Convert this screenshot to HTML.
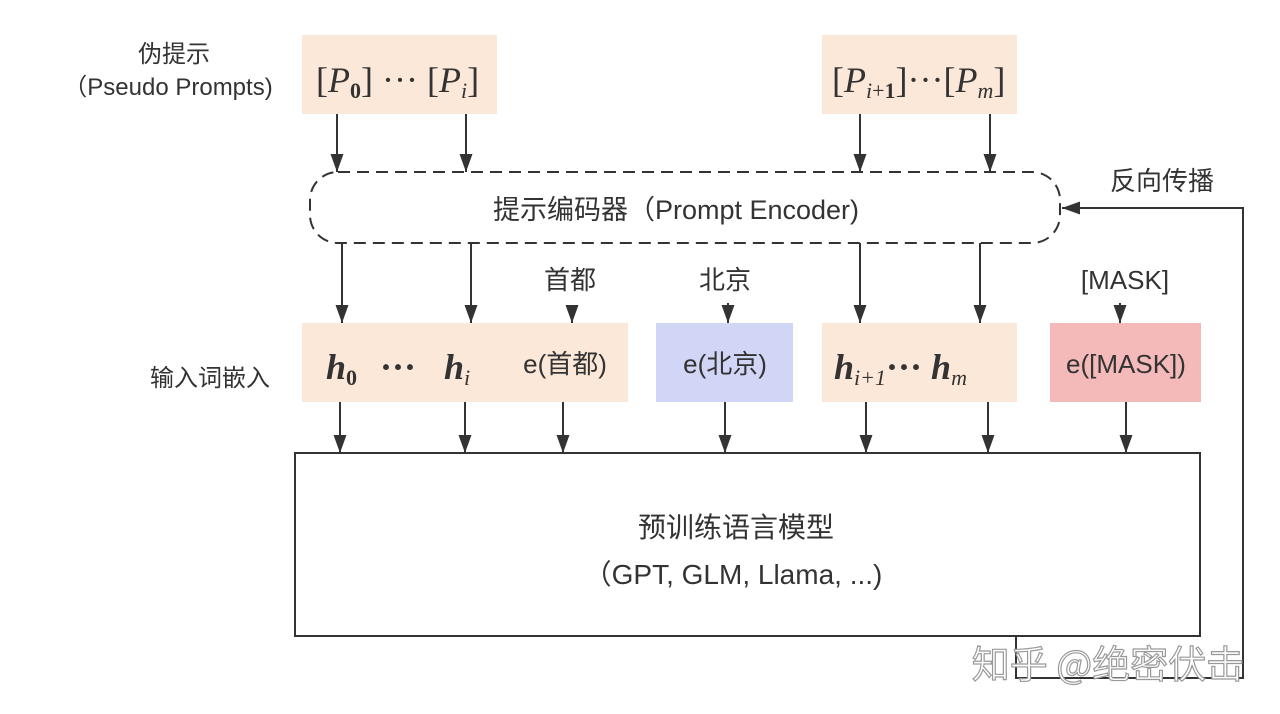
<!DOCTYPE html>
<html><head><meta charset="utf-8"><style>
html,body{margin:0;padding:0;background:#fff;}
svg{display:block;}
.s{font-family:"Liberation Sans","Noto Sans CJK SC",sans-serif;fill:#333;}
.m{font-family:"Liberation Serif","DejaVu Serif",serif;fill:#333;}
</style></head><body>
<svg width="1280" height="714" viewBox="0 0 1280 714" xmlns="http://www.w3.org/2000/svg">
<defs>
<marker id="a" markerWidth="18" markerHeight="13" refX="18" refY="6.5" orient="auto" markerUnits="userSpaceOnUse" viewBox="0 0 18 13">
<path d="M0,0 L18,6.5 L0,13 Z" fill="#333"/>
</marker>
</defs>
<text class="s" x="174" y="62" font-size="24" text-anchor="middle">伪提示</text>
<text class="s" x="168" y="95" font-size="24" text-anchor="middle">（Pseudo Prompts)</text>
<text class="s" x="210" y="386" font-size="24" text-anchor="middle">输入词嵌入</text>
<rect x="302" y="35" width="195" height="79" fill="#fce8d8"/>
<rect x="822" y="35" width="195" height="79" fill="#fce8d8"/>
<text class="m" x="316" y="92" font-size="36">[<tspan font-style="italic">P</tspan><tspan font-size="22" font-weight="bold" dy="6">0</tspan><tspan dy="-6">] ··· [</tspan><tspan font-style="italic">P</tspan><tspan font-size="22" font-style="italic" dy="6">i</tspan><tspan dy="-6">]</tspan></text>
<text class="m" x="832" y="92" font-size="36">[<tspan font-style="italic">P</tspan><tspan font-size="22" dy="6"><tspan font-style="italic">i</tspan>+<tspan font-weight="bold">1</tspan></tspan><tspan dy="-6">]···[</tspan><tspan font-style="italic">P</tspan><tspan font-size="22" font-style="italic" dy="6">m</tspan><tspan dy="-6">]</tspan></text>
<g stroke="#333" stroke-width="2" fill="none">
<line x1="337" y1="114" x2="337" y2="172" marker-end="url(#a)"/>
<line x1="466" y1="114" x2="466" y2="172" marker-end="url(#a)"/>
<line x1="860" y1="114" x2="860" y2="172" marker-end="url(#a)"/>
<line x1="990" y1="114" x2="990" y2="172" marker-end="url(#a)"/>
<rect x="310" y="172" width="750" height="71" rx="28" stroke-dasharray="12,7"/>
<line x1="342" y1="243" x2="342" y2="323" marker-end="url(#a)"/>
<line x1="471" y1="243" x2="471" y2="323" marker-end="url(#a)"/>
<line x1="860" y1="243" x2="860" y2="323" marker-end="url(#a)"/>
<line x1="980" y1="243" x2="980" y2="323" marker-end="url(#a)"/>
<line x1="572" y1="305" x2="572" y2="323" marker-end="url(#a)"/>
<line x1="728" y1="303" x2="728" y2="323" marker-end="url(#a)"/>
<line x1="1120" y1="303" x2="1120" y2="323" marker-end="url(#a)"/>
</g>
<text class="s" x="676" y="219" font-size="27" text-anchor="middle">提示编码器（Prompt Encoder)</text>
<text class="s" x="1162" y="190" font-size="26" text-anchor="middle">反向传播</text>
<text class="s" x="570" y="289" font-size="26" text-anchor="middle">首都</text>
<text class="s" x="725" y="289" font-size="26" text-anchor="middle">北京</text>
<text class="s" x="1125" y="289" font-size="26" text-anchor="middle">[MASK]</text>
<rect x="302" y="323" width="326" height="79" fill="#fce8d8"/>
<rect x="656" y="323" width="137" height="79" fill="#d1d5f6"/>
<rect x="822" y="323" width="195" height="79" fill="#fce8d8"/>
<rect x="1050" y="323" width="151" height="79" fill="#f4b9b9"/>
<text class="m" x="326" y="379" font-size="36" font-weight="bold" font-style="italic">h<tspan font-size="22" font-style="normal" dy="6">0</tspan></text>
<text class="m" x="380" y="379" font-size="36" font-weight="bold">···</text>
<text class="m" x="444" y="379" font-size="36" font-weight="bold" font-style="italic">h<tspan font-size="22" font-weight="normal" dy="6">i</tspan></text>
<text class="s" x="565" y="373" font-size="26" text-anchor="middle">e(首都)</text>
<text class="s" x="725" y="373" font-size="26" text-anchor="middle">e(北京)</text>
<text class="m" x="834" y="379" font-size="36" font-weight="bold" font-style="italic">h<tspan font-size="22" font-weight="normal" dy="6">i+1</tspan><tspan dy="-6" font-style="normal">··· </tspan>h<tspan font-size="22" font-weight="normal" dy="6">m</tspan></text>
<text class="s" x="1126" y="373" font-size="26" text-anchor="middle">e([MASK])</text>
<g stroke="#333" stroke-width="2" fill="none">
<line x1="340" y1="402" x2="340" y2="453" marker-end="url(#a)"/>
<line x1="465" y1="402" x2="465" y2="453" marker-end="url(#a)"/>
<line x1="563" y1="402" x2="563" y2="453" marker-end="url(#a)"/>
<line x1="725" y1="402" x2="725" y2="453" marker-end="url(#a)"/>
<line x1="866" y1="402" x2="866" y2="453" marker-end="url(#a)"/>
<line x1="988" y1="402" x2="988" y2="453" marker-end="url(#a)"/>
<line x1="1126" y1="402" x2="1126" y2="453" marker-end="url(#a)"/>
<rect x="295" y="453" width="905" height="183"/>
<polyline points="1016,636 1016,678 1243,678 1243,208 1062,208" marker-end="url(#a)"/>
</g>
<text class="s" x="736" y="537" font-size="28" text-anchor="middle">预训练语言模型</text>
<text class="s" x="733" y="584" font-size="28" text-anchor="middle">（GPT, GLM, Llama, ...)</text>
<text x="1108" y="678" font-size="38" text-anchor="middle" font-family="'Noto Sans CJK SC',sans-serif" fill="#fff" stroke="#999" stroke-width="1.2">知乎 @绝密伏击</text>
</svg>
</body></html>
